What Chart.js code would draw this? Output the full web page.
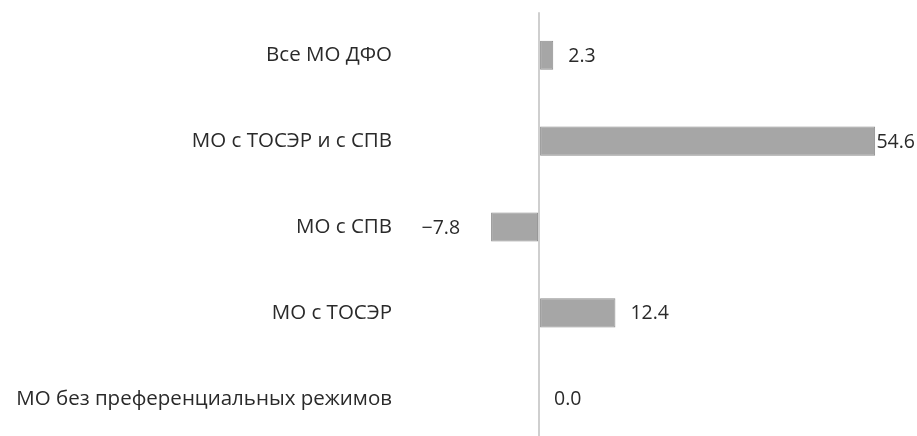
<!DOCTYPE html>
<html>
<head>
<meta charset="utf-8">
<script src="https://cdn.jsdelivr.net/npm/chart.js@4/dist/chart.umd.min.js"></script>
<style>
  html, body { margin: 0; padding: 0; background: #fff; overflow: hidden; }
  #wrap { position: relative; width: 917px; height: 454px; }
</style>
</head>
<body>
<div id="wrap"><canvas id="chart"></canvas></div>
<script>
// categories, top to bottom
const categories = [
    "Все МО ДФО",
    "МО с ТОСЭР и с СПВ",
    "МО с СПВ",
    "МО с ТОСЭР",
    "МО без преференциальных режимов"
];
const values = [2.3, 54.6, -7.8, 12.4, 0.0];

const textColor = '#2a2a2a';
const catFont = { family: 'Open Sans', size: 20.5 };
const valFont = { family: 'Open Sans', size: 19.5 };

// value labels next to bar ends
const valueLabels = {
    id: 'valueLabels',
    afterDatasetsDraw(chart) {
        const ctx = chart.ctx;
        const meta = chart.getDatasetMeta(0);
        const xs = chart.scales.x;
        ctx.save();
        ctx.font = valFont.size + 'px ' + valFont.family;
        ctx.fillStyle = textColor;
        ctx.textBaseline = 'middle';
        ctx.textAlign = 'left';
        meta.data.forEach((bar, i) => {
            const v = values[i];
            const txt = v.toFixed(1).replace('-', '\u2212');
            const w = ctx.measureText(txt).width;
            let x;
            if (v < 0) {
                x = bar.x - 31 - w;
            } else {
                x = Math.max(bar.x, xs.getPixelForValue(0)) + 15;
                if (x + w > chart.width - 2) x = chart.width - 2 - w;
            }
            ctx.fillText(txt, x, bar.y + 1);
        });
        ctx.restore();
    }
};

new Chart(document.getElementById('chart'), {
    type: 'bar',
    data: {
        labels: categories,
        datasets: [{
            data: values,
            backgroundColor: '#a6a6a6',
            borderColor: '#8c8c8c',
            borderWidth: 1,
            borderSkipped: false,
            categoryPercentage: 1,
            barPercentage: 0.34
        }]
    },
    options: {
        indexAxis: 'y',
        responsive: true,
        maintainAspectRatio: false,
        animation: false,
        layout: { padding: { top: 6.5, right: 0, left: 0, bottom: 0 } },
        plugins: { legend: { display: false }, tooltip: { enabled: false } },
        scales: {
            x: {
                min: -22.6,
                max: 61.4,
                ticks: { display: false, stepSize: 0.1 },
                border: { display: false },
                grid: {
                    drawTicks: false,
                    lineWidth: 2,
                    color: (c) => (c.tick && Math.abs(c.tick.value) < 1e-9) ? '#cfcfcf' : 'rgba(0,0,0,0)'
                }
            },
            y: {
                afterFit: (scale) => { scale.width = 400; },
                border: { display: false },
                grid: { display: false },
                ticks: { color: textColor, font: catFont, padding: 0 }
            }
        }
    },
    plugins: [valueLabels]
});
</script>
</body>
</html>
